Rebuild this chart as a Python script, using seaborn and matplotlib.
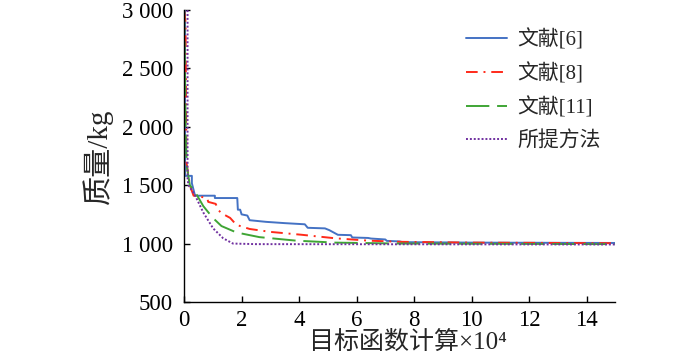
import matplotlib
matplotlib.use("Agg")
import matplotlib.pyplot as plt
import seaborn as sns
import pandas as pd

# ---- data ----
x_ref6 = [0.0, 0.03, 0.03, 0.27, 0.27, 0.38, 1.07, 1.07, 1.85, 1.87, 1.95, 2.0, 2.2, 2.28, 2.85, 3.5,
          4.2, 4.3, 4.9, 5.05, 5.35, 5.8, 5.85, 6.4, 6.5, 7.0, 7.05, 7.5, 7.6, 10.0, 15.0]
y_ref6 = [3000, 3000, 1580, 1580, 1517, 1410, 1410, 1390, 1390, 1290, 1290, 1250, 1240, 1200, 1186, 1175,
          1165, 1135, 1130, 1115, 1075, 1072, 1052, 1048, 1043, 1035, 1023, 1018, 1012, 1008, 1005]

x_ref8 = [0.0, 0.05, 0.08, 0.2, 0.33, 0.45, 0.6, 0.8, 0.84, 1.1, 1.18, 1.3, 1.6, 1.82, 2.28, 3.0,
          4.1, 5.26, 6.4, 7.5, 10.0, 15.0]
y_ref8 = [3000, 2900, 1700, 1500, 1410, 1410, 1400, 1390, 1357, 1340, 1290, 1260, 1220, 1160, 1125, 1100,
          1075, 1045, 1025, 1015, 1008, 1003]

x_ref11 = [0.0, 0.03, 0.06, 0.1, 0.2, 0.38, 0.67, 1.0, 1.3, 1.82, 2.62, 3.89, 5.26, 7.5, 15.0]
y_ref11 = [3000, 2500, 1900, 1650, 1500, 1443, 1320, 1220, 1150, 1095, 1055, 1025, 1008, 1000, 995]

x_prop = [0.12, 0.12, 0.15, 0.38, 0.67, 1.01, 1.36, 1.7, 2.5, 15.0]
y_prop = [3000, 1560, 1500, 1414, 1265, 1130, 1045, 1000, 995, 992]

labels = ["文献[6]", "文献[8]", "文献[11]", "所提方法"]
colors = ["#4472C4", "#FF2A1A", "#3FA535", "#7030A0"]
styles = ["-", (0, (6, 3, 1, 3)), (0, (12, 4)), (0, (1, 1))]

x_ticks = [0, 2, 4, 6, 8, 10, 12, 14]
y_ticks = [500, 1000, 1500, 2000, 2500, 3000]
y_ticklabels = ["500", "1 000", "1 500", "2 000", "2 500", "3 000"]

sns.set_theme(style="ticks")
plt.rcParams["font.family"] = ["Liberation Serif", "Noto Sans CJK SC"]
plt.rcParams["axes.unicode_minus"] = False

fig = plt.figure(figsize=(7, 3.62), dpi=100)
ax = fig.add_axes([0.263, 0.166, 0.616, 0.806])

series = [(x_ref6, y_ref6), (x_ref8, y_ref8), (x_ref11, y_ref11), (x_prop, y_prop)]
for (xs, ys), lab, c, ls in zip(series, labels, colors, styles):
    df = pd.DataFrame({"x": xs, "y": ys})
    sns.lineplot(data=df, x="x", y="y", ax=ax, estimator=None, sort=False,
                 color=c, linestyle=ls, linewidth=1.4, label=lab)

ax.set_xlim(0, 15)
ax.set_ylim(500, 3000)
ax.set_xticks(x_ticks)
ax.set_yticks(y_ticks)
ax.set_yticklabels(y_ticklabels)
ax.tick_params(direction="in", length=4, width=1, labelsize=16.5, pad=8, colors="black")
ax.tick_params(axis="x", pad=6)
for s in ["top", "right"]:
    ax.spines[s].set_visible(False)
for s in ["left", "bottom"]:
    ax.spines[s].set_linewidth(1.0)
    ax.spines[s].set_color("black")

ax.set_xlabel("目标函数计算×10⁴", fontsize=18, labelpad=0)
ax.xaxis.set_label_coords(0.518, -0.10, transform=ax.transAxes)
ax.xaxis.label.set_va("top")
ax.set_ylabel("质量/kg", fontsize=21, labelpad=6)

leg = ax.legend(loc="upper left", bbox_to_anchor=(0.665, 1 - 29 / 362),
                bbox_transform=fig.transFigure, frameon=False, fontsize=15,
                handlelength=2.0, handletextpad=0.5, labelspacing=0.62,
                borderpad=0, borderaxespad=0)

fig.savefig("out.png", dpi=100)
